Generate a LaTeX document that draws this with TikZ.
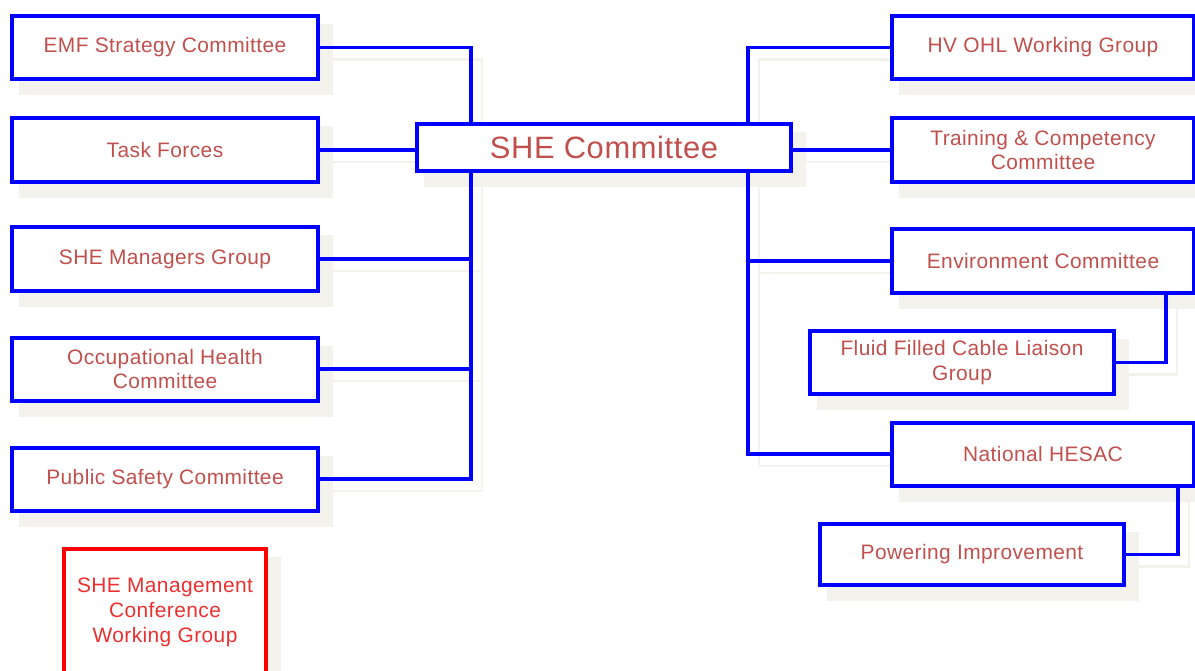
\documentclass[tikz,border=0pt]{standalone}
\usepackage{fontspec}
\setmainfont{Liberation Sans}[LetterSpace=2.0]
\usetikzlibrary{calc}

% layers: box and wire shadows at the bottom, wires above them, boxes on top
\pgfdeclarelayer{shade}
\pgfdeclarelayer{wires}
\pgfsetlayers{shade,wires,main}

\definecolor{boxblue}{RGB}{0,0,255}
\definecolor{labelred}{RGB}{192,80,77}
\definecolor{alertred}{RGB}{255,0,0}
\definecolor{alerttext}{RGB}{236,48,48}
\definecolor{shadegray}{RGB}{243,242,237}

\tikzset{
  unit/.style={draw=boxblue, line width=4bp, fill=white, inner sep=0pt,
    align=center, text=labelred, font=\fontsize{21}{25}\selectfont,
    minimum height=63bp},
  leftunit/.style={unit, minimum width=306bp},
  rightunit/.style={unit, minimum width=302bp},
  subunit/.style={unit, minimum width=304bp},
  headunit/.style={unit, minimum width=374bp, minimum height=47bp,
    font=\fontsize{31}{36}\selectfont},
  alertunit/.style={unit, draw=alertred, text=alerttext,
    minimum width=202bp, minimum height=126bp},
  wire/.style={draw=boxblue, line width=3.4bp},
  wireshade/.style={draw=shadegray, line width=2.5bp,
    transform canvas={shift={(11bp,-12bp)}}},
}

% draws a connector together with its offset shadow
\newcommand\linkpath[1]{%
  \begin{pgfonlayer}{shade}\draw[wireshade] #1;\end{pgfonlayer}%
  \begin{pgfonlayer}{wires}\draw[wire] #1;\end{pgfonlayer}}

\begin{document}
\begin{tikzpicture}[x=1bp, y=-1bp]
\useasboundingbox (0,0) rectangle (1195,671);

% central committee
\node[headunit] (she) at (604,147.5) {SHE Committee};

% left column
\node[leftunit] (emf)  at (165,47.5) {EMF Strategy Committee};
\node[leftunit] (task) at (165,150)  {Task Forces};
\node[leftunit] (mgr)  at (165,259)  {SHE Managers Group};
\node[leftunit] (occ)  at (165,369)  {Occupational Health\\Committee};
\node[leftunit] (pub)  at (165,479)  {Public Safety Committee};
\node[alertunit] (conf) at (165,612) {SHE Management\\Conference\\Working Group};

% right column
\node[rightunit] (hv)    at (1043,47.5) {HV OHL Working Group};
\node[rightunit] (train) at (1043,150)  {Training \& Competency\\Committee};
\node[rightunit] (env)   at (1043,261)  {Environment Committee};
\node[subunit]   (fluid) at (962,362.5) {Fluid Filled Cable Liaison\\Group};
\node[rightunit] (hesac) at (1043,454)  {National HESAC};
\node[subunit, minimum height=61bp] (power) at (972,554.5) {Powering Improvement};

% box shadows
\begin{pgfonlayer}{shade}
  \foreach \n in {emf,task,mgr,occ,pub,conf,she,hv,train,env,fluid,hesac,power}
    \fill[shadegray] ([shift={(9,10)}]\n.north west) rectangle ([shift={(13,14)}]\n.south east);
\end{pgfonlayer}

% trunk positions
\coordinate (lt) at (471,0);
\coordinate (rt) at (748,0);
\coordinate (fx) at (1166,0);
\coordinate (px) at (1178,0);

% left connectors
\linkpath{(emf.east) -| (she.north -| lt)}
\linkpath{(task.east) -- (task.east -| she.west)}
\linkpath{(she.south -| lt) |- (pub.east)}
\linkpath{(mgr.east) -- (mgr.east -| lt)}
\linkpath{(occ.east) -- (occ.east -| lt)}

% right connectors
\linkpath{(hv.west) -| (she.north -| rt)}
\linkpath{(train.west) -- (train.west -| she.east)}
\linkpath{(she.south -| rt) |- (hesac.west)}
\linkpath{(env.west) -- (env.west -| rt)}
\linkpath{(env.south -| fx) |- (fluid.east)}
\linkpath{(hesac.south -| px) |- (power.east)}
\end{tikzpicture}
\end{document}
